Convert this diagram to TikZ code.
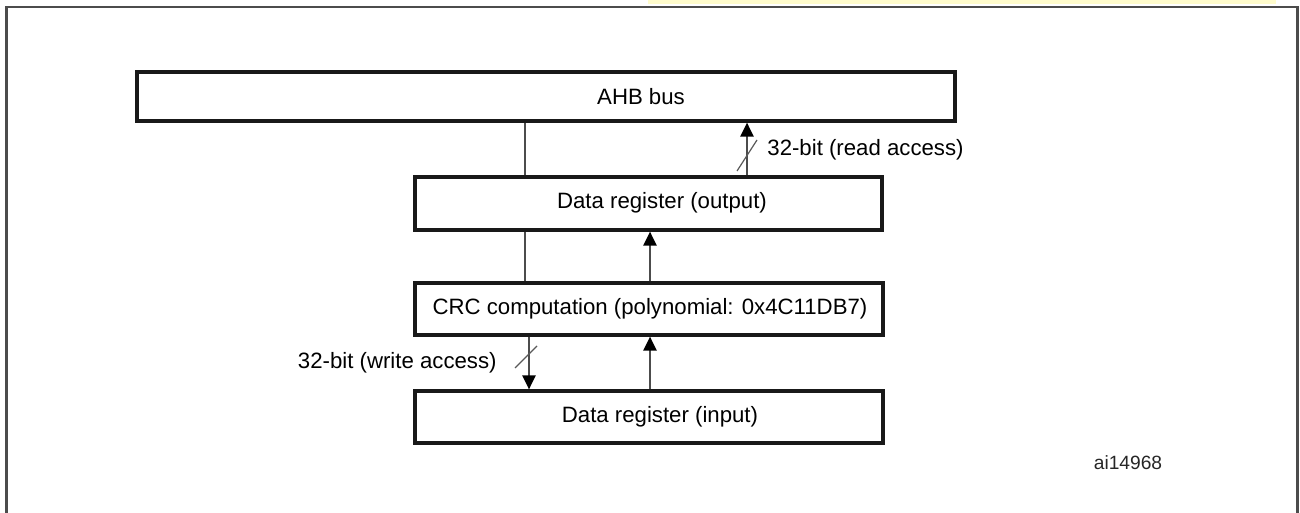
\documentclass[tikz,border=0pt]{standalone}
\usepackage{fontspec}
\setmainfont{Liberation Sans}
\usetikzlibrary{arrows.meta}
\begin{document}
\begin{tikzpicture}[x=0.5pt,y=-0.5pt,
  box/.style={draw=black!90,line width=1.6pt,fill=white,inner sep=0pt},
  lbl/.style={inner sep=0pt,font=\fontsize{11.1pt}{13pt}\selectfont,text=black},
  conn/.style={draw=black!70,line width=1.1pt},
  arr/.style={conn,-{Triangle[length=7pt,width=6.5pt,color=black]}},
  slash/.style={draw=black!65,line width=0.6pt},
  frame/.style={draw=black!70,line width=1.3pt}]
\useasboundingbox (0,0) rectangle (1300,513);
% cut-off highlight of the caption above
\fill[yellow!20] (648,0) rectangle (1276,4);
% frame
\draw[frame] (6.5,520) -- (6.5,7) -- (1297.5,7) -- (1297.5,520);
% boxes
\node[box,minimum width=409pt,minimum height=24.5pt] (ahb) at (546,96.5) {};
\node[box,minimum width=233.5pt,minimum height=26.5pt] (out) at (648.5,203.5) {};
\node[box,minimum width=234pt,minimum height=26pt] (crc) at (649,309) {};
\node[box,minimum width=234pt,minimum height=26pt] (inp) at (649,417) {};
% texts
\node[lbl] (tahb) at (641,97) {AHB bus};
\node[lbl] (tout) at (662,203) {Data register (output)};
\node[lbl] (tcrc) at (650,309) {CRC computation (polynomial: 0x4C11DB7)};
\node[lbl] (tinp) at (660,417) {Data register (input)};
% column coordinates
\coordinate (cl) at (525,0);
\coordinate (cr) at (747,0);
\coordinate (cm) at (650,0);
\coordinate (cw) at (529,0);
% connectors
\draw[conn] (out.north -| cl) -- (ahb.south -| cl);
\draw[arr] (out.north -| cr) -- (ahb.south -| cr);
\draw[conn] (crc.north -| cl) -- (out.south -| cl);
\draw[arr] (crc.north -| cm) -- (out.south -| cm);
\draw[arr] (crc.south -| cw) -- (inp.north -| cw);
\draw[arr] (inp.north -| cm) -- (crc.south -| cm);
% bus width marks
\coordinate (s1a) at (737,171);
\coordinate (s1b) at (757,140);
\coordinate (s2a) at (515,368);
\coordinate (s2b) at (537,346);
\draw[slash] (s1a) -- (s1b);
\draw[slash] (s2a) -- (s2b);
% labels
\node[lbl,anchor=west] (lread) at (767,150) {32-bit (read access)};
\node[lbl,anchor=east] (lwrite) at (497,363) {32-bit (write access)};
\node[inner sep=0pt,font=\fontsize{9.6pt}{11pt}\selectfont,text=black!85] (ref) at (1128,463) {ai14968};
\end{tikzpicture}
\end{document}
